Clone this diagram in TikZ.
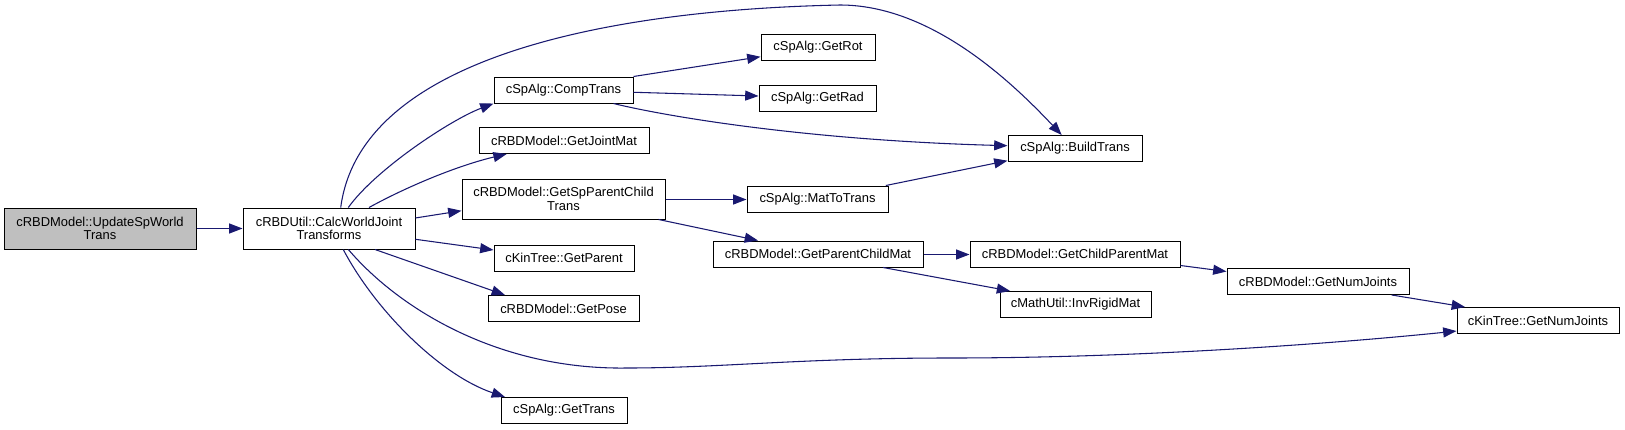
\documentclass[tikz,border=0pt]{standalone}
\usepackage{fontspec}
\setmainfont{Liberation Sans}
\usetikzlibrary{arrows.meta}
\definecolor{edgec}{HTML}{191970}
\definecolor{fillg}{HTML}{BFBFBF}
\begin{document}
\begin{tikzpicture}[x=0.75pt,y=-0.75pt,
  box/.style={draw=black, line width=0.75pt, fill=white, inner sep=0pt,
    minimum height=19.5pt, font=\fontsize{9.7}{10}\selectfont, align=center},
  tall/.style={minimum height=30.75pt},
  edge/.style={draw=edgec, line width=0.8pt, -{Triangle[length=10pt,width=7.5pt,fill=edgec]}}]
\useasboundingbox (0,0) rectangle (1625,429);

\node[box,tall,fill=fillg,minimum width=144pt] (upd) at (100,228.5) {cRBDModel::UpdateSpWorld\\Trans};
\node[box,tall,minimum width=129pt] (calc) at (329,228.5) {cRBDUtil::CalcWorldJoint\\Transforms};
\node[box,minimum width=104.25pt] (comp) at (563.5,90) {cSpAlg::CompTrans};
\node[box,minimum width=85.5pt] (rot) at (818,47) {cSpAlg::GetRot};
\node[box,minimum width=87.75pt] (rad) at (817.5,98) {cSpAlg::GetRad};
\node[box,minimum width=127.5pt] (joint) at (564,140.5) {cRBDModel::GetJointMat};
\node[box,minimum width=100.5pt] (build) at (1075,148.5) {cSpAlg::BuildTrans};
\node[box,tall,minimum height=30pt,minimum width=152.25pt] (spc) at (563.5,199) {cRBDModel::GetSpParentChild\\Trans};
\node[box,minimum width=105.75pt] (mtt) at (817.5,199) {cSpAlg::MatToTrans};
\node[box,minimum width=105pt] (par) at (564,258) {cKinTree::GetParent};
\node[box,minimum width=157.5pt] (pcm) at (818,254) {cRBDModel::GetParentChildMat};
\node[box,minimum width=157.5pt] (cpm) at (1075,254) {cRBDModel::GetChildParentMat};
\node[box,minimum width=113.25pt] (inv) at (1075.5,304.5) {cMathUtil::InvRigidMat};
\node[box,minimum width=113.25pt] (pose) at (563.5,308.5) {cRBDModel::GetPose};
\node[box,minimum width=136.5pt] (rnj) at (1318,281.5) {cRBDModel::GetNumJoints};
\node[box,minimum width=121.5pt] (knj) at (1538,320.5) {cKinTree::GetNumJoints};
\node[box,minimum width=94.5pt] (trans) at (564,410.5) {cSpAlg::GetTrans};

\draw[edge] (upd) -- (calc);
\draw[edge] ([xshift=8.8pt]calc.north) .. controls (360,60) and (600,10) .. (840,5)
  .. controls (930,5) and (1010,80) .. ([xshift=-10pt]build.north);
\draw[edge] ([xshift=14.5pt]calc.north) .. controls (375,170) and (450,120) .. (comp.south west);
\draw[edge] ([xshift=30pt]calc.north) .. controls (410,185) and (460,165) .. ([xshift=-43pt]joint.south);
\draw[edge] ([yshift=7.9pt]calc.east) -- ([yshift=-8.8pt]spc.west);
\draw[edge] ([yshift=-8.1pt]calc.east) -- ([yshift=6pt]par.west);
\draw[edge] ([xshift=34.5pt]calc.south) -- ([xshift=-43.9pt]pose.north);
\draw[edge] ([xshift=14.5pt]calc.south) .. controls (400,310) and (500,370) .. (627,368)
  .. controls (720,368) and (800,358) .. (950,358)
  .. controls (1150,358) and (1350,342) .. ([yshift=-7.9pt]knj.west);
\draw[edge] ([xshift=10.7pt]calc.south) .. controls (375,310) and (440,375) .. ([xshift=-44.25pt]trans.north);
\draw[edge] (comp.north east) -- ([yshift=-7.3pt]rot.west);
\draw[edge] ([yshift=-1.7pt]comp.east) -- ([yshift=1.5pt]rad.west);
\draw[edge] ([xshift=37.5pt]comp.south) .. controls (660,115) and (800,140) .. ([yshift=2.1pt]build.west);
\draw[edge] ([yshift=-0.375pt]spc.east) -- ([yshift=-0.375pt]mtt.west);
\draw[edge] ([xshift=71.3pt]spc.south) -- ([xshift=-45pt]pcm.north);
\draw[edge] ([xshift=-2pt]mtt.north east) -- ([yshift=1pt]build.south west);
\draw[edge] ([yshift=-0.375pt]pcm.east) -- ([yshift=-0.375pt]cpm.west);
\draw[edge] ([xshift=48.8pt]pcm.south) -- ([xshift=-49pt]inv.north);
\draw[edge] ([yshift=1.5pt]cpm.south east) -- ([yshift=7.5pt]rnj.west);
\draw[edge] ([xshift=55.3pt]rnj.south) -- ([xshift=-54.75pt]knj.north);
\end{tikzpicture}
\end{document}
